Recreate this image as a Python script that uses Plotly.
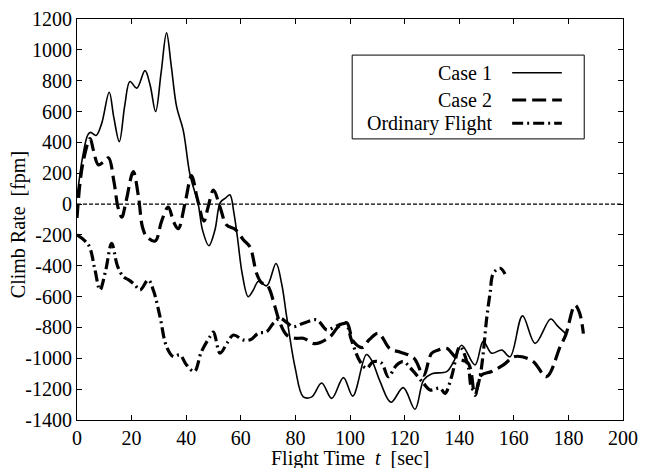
import plotly.graph_objects as go

# Climb rate histories [fpm] versus flight time [sec]
case1_t = [0, 2, 4, 5, 7, 9, 11.8, 13.5, 15.5, 17.5, 19.4, 21.9, 24.9, 26.8, 28.8, 30.8, 32.8,
           34.5, 36.5, 38.9, 41.4, 44.4, 46, 48.3, 50.5, 52.5, 54.5, 56, 57.5, 58.8, 60.5, 62.7,
           64.5, 66.5, 69.5, 72.9, 75, 76.8, 79.9, 82.9, 86, 89.6, 93.3, 97.6, 101, 106, 108,
           111, 115, 119.5, 123.8, 127, 130, 135.4, 138, 140.9, 145.8, 148.8, 151.9, 155.6,
           158.6, 163.2, 167.8, 173.5, 176, 179]
case1_v = [40, 300, 450, 465, 445, 520, 725, 560, 405, 640, 795, 752, 865, 770, 600, 850, 1110,
           900, 630, 480, 190, 0, -170, -270, -170, 10, 40, 60, -60, -220, -450, -600,
           -560, -500, -530, -385, -520, -730, -1060, -1250, -1250, -1160, -1260, -1125, -1245, -975, -1015,
           -1150, -1285, -1190, -1330, -1140, -1100, -1086, -1020, -915, -1043, -890, -967, -946,
           -990, -725, -903, -745, -790, -840]

case2_t = [0, 2, 4.8, 6, 7.8, 9.5, 11.5, 13.5, 15, 16.4, 18, 20.6, 22.5, 24, 25.5, 28.6, 31,
           33.4, 35.5, 37.1, 39.5, 42, 44, 46.5, 48, 50, 52.4, 54.8, 58, 61, 63.4, 65.8, 67.6,
           69.5, 70.7, 72.5, 74.4, 76.8, 80, 82.9, 87.2, 92.7, 95.7, 98.8, 101.2, 104.6, 107,
           110.4, 114.7, 118.5, 123.5, 126.9, 129.9, 132.4, 135.4, 139, 143.3, 145.8, 148,
           151.9, 156.2, 160, 163, 167.2, 172, 177, 179, 182.4, 184, 185.5]
case2_v = [-90, 250, 425, 350, 255, 270, 300, 150, -20, -85, 20, 210, 50, -150, -210, -240, -110,
           -20, -120, -160, 0, 185, 40, -110, -20, 90, -20, -136, -165, -233, -280, -450, -510,
           -520, -560, -665, -773, -849, -870, -870, -905, -860, -795, -770, -890, -930, -880,
           -838, -940, -960, -1000, -1110, -967, -946, -935, -1000, -1032, -1240, -1110,
           -1086, -1043, -990, -990, -1022, -1119, -924, -850, -655, -700, -840]

ordinary_t = [0, 4.2, 6.5, 8.4, 10.5, 12.7, 14.8, 17, 18.8, 21, 23.1, 26.1, 28, 30.4, 32.8, 35.3,
              37.7, 40, 43, 45.5, 48.7, 50, 52.4, 55, 57.3, 60.9, 63.5, 66.4, 69.5, 71.9, 74.4,
              77, 79.2, 82.9, 87.8, 91.5, 94, 96.5, 98.5, 100.5, 103.7, 106.1, 108.5, 111.6,
              114, 117.1, 119.5, 123, 126.9, 129.3, 133, 134.8, 137.2, 140.3, 143.3, 144.6,
              146, 147.6, 148.8, 150, 151.3, 152.5, 155, 156.8]
ordinary_v = [-200, -265, -420, -557, -430, -255, -400, -471, -490, -520, -557, -492, -560, -730,
              -924, -989, -978, -1040, -1086, -960, -860, -830, -967, -900, -849, -881, -880,
              -838, -827, -773, -740, -770, -795, -773, -751, -816, -800, -780, -775, -880,
              -1022, -1065, -1022, -1032, -1119, -1043, -1022, -1080, -1162, -1205, -1194,
              -1227, -1119, -924, -1054, -1194, -1210, -1119, -967, -751, -578, -449, -416, -453]

series_names = ["Case 1", "Case 2", "Ordinary Flight"]
x_ticks = [0, 20, 40, 60, 80, 100, 120, 140, 160, 180, 200]
y_ticks = [1200, 1000, 800, 600, 400, 200, 0, -200, -400, -600, -800, -1000, -1200, -1400]
x_title = "Flight Time\u00a0 <i>t</i>\u00a0 [sec]"
y_title = "Climb Rate\u00a0 [fpm]"

FONT = "Liberation Serif, Times New Roman, serif"
FS = 20
styles = [
    dict(width=1.6, dash="solid"),
    dict(width=3.2, dash="14px,6px"),
    dict(width=3.2, dash="11px,4px,2px,4px"),
]

fig = go.Figure()
for (tt, vv), name, st in zip([(case1_t, case1_v), (case2_t, case2_v), (ordinary_t, ordinary_v)],
                              series_names, styles):
    fig.add_trace(go.Scatter(x=tt, y=vv, mode="lines", name=name,
                             line=dict(color="black", width=st["width"], dash=st["dash"],
                                       shape="spline", smoothing=1.0),
                             showlegend=False))

# zero reference line
fig.add_shape(type="line", xref="x", yref="y", x0=0, x1=200, y0=0, y1=0,
              line=dict(color="black", width=1.2, dash="4px,2px"))

# legend box drawn with shapes and right-aligned labels
box = dict(x0=0.504, x1=0.929, y0=0.701, y1=0.910)
fig.add_shape(type="rect", xref="paper", yref="paper", line=dict(color="black", width=1),
              fillcolor="white", **box)
rows_y = [0.866, 0.798, 0.740]
for name, st, ry in zip(series_names, styles, rows_y):
    fig.add_annotation(x=0.764, y=ry, xref="paper", yref="paper", text=name, showarrow=False,
                       xanchor="right", yanchor="middle",
                       font=dict(family=FONT, size=FS, color="black"))
    fig.add_shape(type="line", xref="paper", yref="paper", x0=0.797, x1=0.888, y0=ry, y1=ry,
                  line=dict(color="black", width=st["width"] if st["dash"] == "solid" else 3,
                            dash=st["dash"]))

# axis titles placed as annotations
fig.add_annotation(x=0.5, y=-0.097, xref="paper", yref="paper", text=x_title, showarrow=False,
                   xanchor="center", yanchor="middle",
                   font=dict(family=FONT, size=FS, color="black"))
fig.add_annotation(x=-0.108, y=0.486, xref="paper", yref="paper", text=y_title, showarrow=False,
                   textangle=-90, xanchor="center", yanchor="middle",
                   font=dict(family=FONT, size=FS, color="black"))

axis_common = dict(showline=True, linecolor="black", linewidth=1, mirror="ticks",
                   ticks="inside", ticklen=5, tickcolor="black", showgrid=False,
                   zeroline=False, automargin=False,
                   tickfont=dict(family=FONT, size=FS, color="black"))

fig.update_xaxes(range=[0, 200], tickvals=x_ticks, ticktext=[str(v) for v in x_ticks],
                 **axis_common)
fig.update_yaxes(range=[-1400, 1200], tickvals=y_ticks, ticktext=[str(v) for v in y_ticks],
                 **axis_common)

fig.update_layout(width=655, height=468, margin=dict(l=77, r=32, t=19, b=48),
                  plot_bgcolor="white", paper_bgcolor="white",
                  font=dict(family=FONT, color="black"))

fig.write_html("out.html")
